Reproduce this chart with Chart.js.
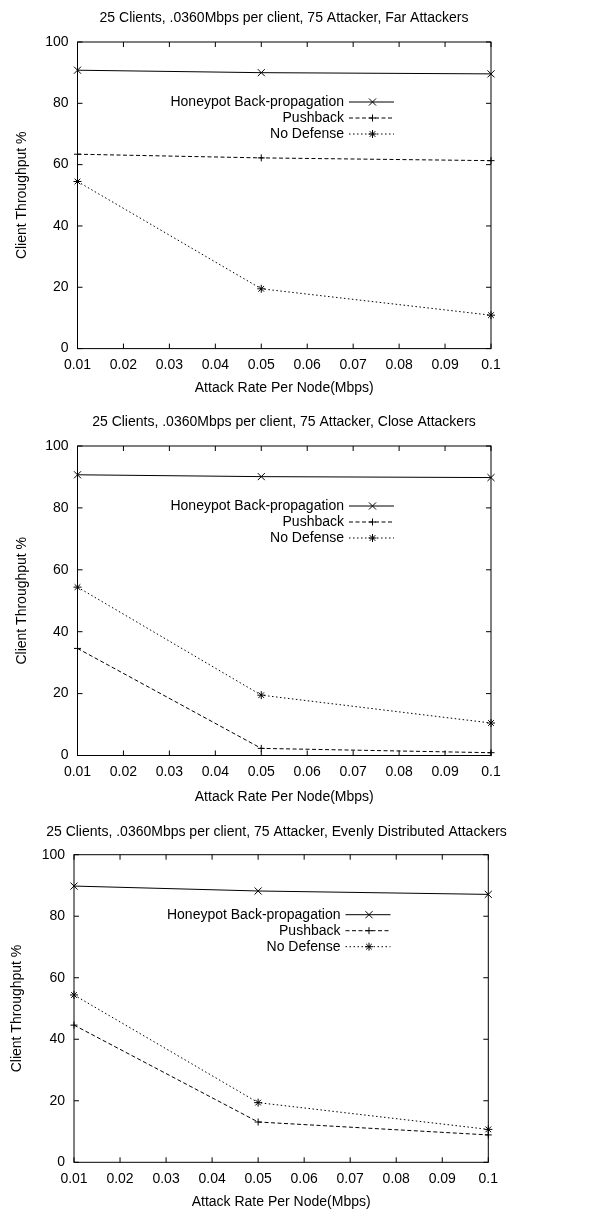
<!DOCTYPE html>
<html lang="en">
<head>
<meta charset="UTF-8">
<title>Client Throughput</title>
<script src="https://cdn.jsdelivr.net/npm/chart.js"></script>
<style>
  body { margin: 0; background: #fff; }
  .panel { position: absolute; left: 0; }
</style>
</head>
<body>
<div class="panel" style="top:0;width:568px;height:400px"><canvas id="far"></canvas></div>
<div class="panel" style="top:400px;width:568px;height:406px"><canvas id="close"></canvas></div>
<div class="panel" style="top:806px;width:553px;height:407px"><canvas id="even"></canvas></div>
<script>
// attack rates that were simulated (Mbps per node)
var attackRates = [0.01, 0.05, 0.1];
var xTickValues = [0.01, 0.02, 0.03, 0.04, 0.05, 0.06, 0.07, 0.08, 0.09, 0.1];
var yTickValues = [0, 20, 40, 60, 80, 100];
var seriesNames = ['Honeypot Back-propagation', 'Pushback', 'No Defense'];

var farTitle = '25 Clients, .0360Mbps per client, 75 Attacker, Far Attackers';
var farHoneypot = [90.8, 90.0, 89.6];
var farPushback = [63.4, 62.2, 61.3];
var farNoDefense = [54.5, 19.5, 10.9];

var closeTitle = '25 Clients, .0360Mbps per client, 75 Attacker, Close Attackers';
var closeHoneypot = [90.7, 90.1, 89.8];
var closePushback = [34.6, 2.3, 0.9];
var closeNoDefense = [54.4, 19.5, 10.5];

var evenTitle = '25 Clients, .0360Mbps per client, 75 Attacker, Evenly Distributed Attackers';
var evenHoneypot = [89.8, 88.2, 87.1];
var evenPushback = [44.6, 13.1, 8.9];
var evenNoDefense = [54.4, 19.4, 10.7];

var FONT = '"Liberation Sans", Arial, sans-serif';
var LH = 14 * 1.2;

// line / point look for each series, gnuplot style
var seriesStyles = [
    { dash: [], point: 'crossRot', radius: 5 },
    { dash: [4, 2.5], point: 'cross', radius: 3.5 },
    { dash: [1.5, 2.5], point: 'star', radius: 4 }
];

function makeDatasets(lists) {
    return lists.map(function (vals, i) {
        return {
            label: seriesNames[i],
            data: attackRates.map(function (x, j) { return { x: x, y: vals[j] }; }),
            borderColor: '#000',
            backgroundColor: '#000',
            borderWidth: 1,
            borderDash: seriesStyles[i].dash,
            pointStyle: seriesStyles[i].point,
            pointRadius: seriesStyles[i].radius,
            pointBorderWidth: 1,
            pointBorderColor: '#000',
            tension: 0,
            clip: false
        };
    });
}

// box, inward ticks on all sides and the key, drawn like gnuplot does
var gnuplotFrame = {
    id: 'gnuplotFrame',
    afterDatasetsDraw: function (chart) {
        var ctx = chart.ctx, a = chart.chartArea;
        var xs = chart.scales.x, ys = chart.scales.y;
        ctx.save();
        ctx.strokeStyle = '#000';
        ctx.lineWidth = 1;
        ctx.setLineDash([]);
        ctx.strokeRect(a.left, a.top, a.right - a.left, a.bottom - a.top);
        ctx.beginPath();
        xTickValues.forEach(function (v) {
            var px = xs.getPixelForValue(v);
            ctx.moveTo(px, a.bottom); ctx.lineTo(px, a.bottom - 5);
            ctx.moveTo(px, a.top); ctx.lineTo(px, a.top + 5);
        });
        yTickValues.forEach(function (v) {
            var py = ys.getPixelForValue(v);
            ctx.moveTo(a.left, py); ctx.lineTo(a.left + 5, py);
            ctx.moveTo(a.right, py); ctx.lineTo(a.right - 5, py);
        });
        ctx.stroke();

        // key
        ctx.font = '14px ' + FONT;
        ctx.fillStyle = '#000';
        ctx.textAlign = 'right';
        ctx.textBaseline = 'middle';
        chart.data.datasets.forEach(function (ds, i) {
            var y = a.top + 60 + 16 * i;
            var tx = a.left + 266.5;
            ctx.fillText(ds.label, tx, y);
            ctx.setLineDash(ds.borderDash);
            ctx.beginPath();
            ctx.moveTo(tx + 5, y);
            ctx.lineTo(tx + 50, y);
            ctx.stroke();
            ctx.setLineDash([]);
            Chart.helpers.drawPoint(ctx, {
                pointStyle: ds.pointStyle, radius: ds.pointRadius,
                borderWidth: 1, rotation: 0
            }, tx + 28.5, y);
        });
        ctx.restore();
    }
};

function makeChart(id, title, lists, box) {
    var canvasH = box.height;
    new Chart(document.getElementById(id), {
        type: 'line',
        data: { datasets: makeDatasets(lists) },
        plugins: [gnuplotFrame],
        options: {
            responsive: true,
            maintainAspectRatio: false,
            animation: false,
            layout: { padding: 0 },
            plugins: {
                legend: { display: false },
                tooltip: { enabled: false },
                title: {
                    display: true,
                    text: title,
                    color: '#000',
                    font: { family: FONT, size: 14, weight: 'normal' },
                    padding: {
                        top: box.titleY - LH / 2,
                        bottom: box.top - (box.titleY - LH / 2) - LH
                    }
                }
            },
            scales: {
                x: {
                    type: 'linear',
                    min: 0.01,
                    max: 0.1,
                    afterBuildTicks: function (s) {
                        s.ticks = xTickValues.map(function (v) { return { value: v }; });
                    },
                    afterFit: function (s) { s.height = canvasH - box.bottom; },
                    grid: { display: false, drawTicks: false },
                    border: { display: false },
                    ticks: {
                        color: '#000',
                        padding: 8,
                        maxRotation: 0,
                        autoSkip: false,
                        font: { family: FONT, size: 14 },
                        callback: function (v) { return String(+v.toFixed(2)); }
                    },
                    title: {
                        display: true,
                        text: 'Attack Rate Per Node(Mbps)',
                        color: '#000',
                        font: { family: FONT, size: 14 },
                        padding: { top: 0, bottom: Math.max(0, canvasH - box.xTitleY - LH / 2) }
                    }
                },
                y: {
                    min: 0,
                    max: 100,
                    afterBuildTicks: function (s) {
                        s.ticks = yTickValues.map(function (v) { return { value: v }; });
                    },
                    afterFit: function (s) { s.width = box.left; },
                    grid: { display: false, drawTicks: false },
                    border: { display: false },
                    ticks: {
                        color: '#000',
                        padding: 9,
                        font: { family: FONT, size: 14 }
                    },
                    title: {
                        display: true,
                        text: 'Client Throughput %',
                        color: '#000',
                        font: { family: FONT, size: 14 },
                        padding: { top: box.yTitleX - LH / 2, bottom: 0 }
                    }
                },
                // empty right-hand axis: holds the space to the right of the plot box
                yRight: {
                    position: 'right',
                    min: 0,
                    max: 100,
                    afterFit: function (s) { s.width = box.width - box.right; },
                    grid: { display: false, drawTicks: false },
                    border: { display: false },
                    ticks: { display: false }
                }
            }
        }
    });
}

makeChart('far', farTitle, [farHoneypot, farPushback, farNoDefense],
    { width: 568, height: 400, left: 77.5, right: 491, top: 42, bottom: 348.6, titleY: 18, xTitleY: 388, yTitleX: 21.7 });
makeChart('close', closeTitle, [closeHoneypot, closePushback, closeNoDefense],
    { width: 568, height: 406, left: 77.5, right: 491, top: 46, bottom: 355.5, titleY: 22, xTitleY: 397, yTitleX: 21.7 });
makeChart('even', evenTitle, [evenHoneypot, evenPushback, evenNoDefense],
    { width: 553, height: 407, left: 74, right: 488.3, top: 48.7, bottom: 356.3, titleY: 26, xTitleY: 395.7, yTitleX: 16.7 });
</script>
</body>
</html>
